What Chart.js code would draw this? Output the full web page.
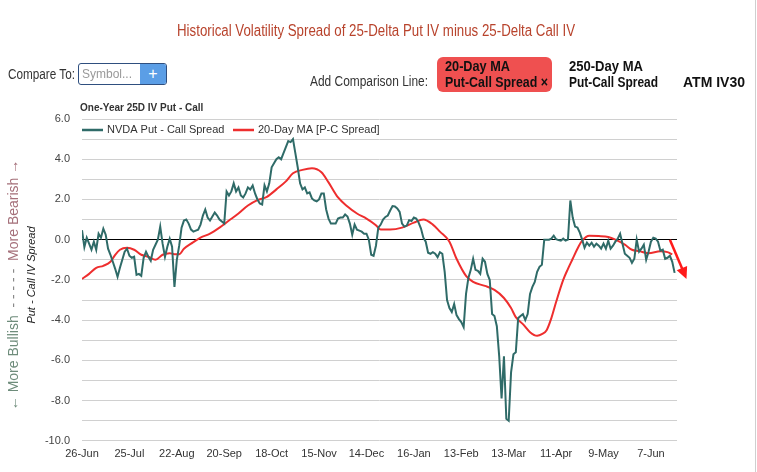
<!DOCTYPE html>
<html>
<head>
<meta charset="utf-8">
<script src="https://cdn.jsdelivr.net/npm/chart.js@4.4.1/dist/chart.umd.min.js"></script>
<style>
    body { margin: 0; background: #fff; }
    #page { position: relative; width: 757px; height: 472px; overflow: hidden; }
    #page:after { content: ''; position: absolute; right: 1px; top: 0; bottom: 0; border-right: 1px solid #cfcfcf; }
    .hd { font-family: "Liberation Sans", Arial, sans-serif; position: absolute; white-space: nowrap; transform-origin: 0 50%; line-height: 16px; }
    #symbol { position: absolute; left: 78px; top: 63px; width: 87px; height: 20px; border: 1px solid #2f4f7f; border-radius: 3px; overflow: hidden; background: #fff; }
    #pill { position: absolute; left: 437px; top: 57px; width: 115px; height: 35px; background: #ef5050; border-radius: 6px; }
    .opt { font-size: 14px; font-weight: bold; color: #111; }
</style>
</head>
<body>
<div id="page">
    <canvas id="ivChart" width="757" height="472" style="position:absolute;left:0;top:0;"></canvas>
    <div class="hd" data-w="398" style="left:177px;top:23px;font-size:16px;color:#b8432c;">Historical Volatility Spread of 25-Delta Put IV minus 25-Delta Call IV</div>
    <div class="hd" data-w="67" style="left:8px;top:66px;font-size:14px;color:#333;">Compare To:</div>
    <div id="symbol"></div>
    <div class="hd" data-w="50" style="left:82px;top:66px;font-size:12px;color:#999;">Symbol...</div>
    <div style="position:absolute;left:140px;top:64px;width:26px;height:20px;background:#5b9ee6;color:#fff;text-align:center;font:16px/20px 'Liberation Sans', Arial, sans-serif;border-radius:0 2px 2px 0;">+</div>
    <div class="hd" data-w="118" style="left:310px;top:73px;font-size:14px;color:#333;">Add Comparison Line:</div>
    <div id="pill"></div>
    <div class="hd opt" data-w="65" style="left:445px;top:58px;">20-Day MA</div>
    <div class="hd opt" data-w="103" style="left:445px;top:74px;">Put-Call Spread ×</div>
    <div class="hd opt" data-w="74" style="left:569px;top:58px;">250-Day MA</div>
    <div class="hd opt" data-w="89" style="left:569px;top:74px;">Put-Call Spread</div>
    <div class="hd opt" data-w="62" style="left:683px;top:74px;">ATM IV30</div>
</div>
<script>
// squeeze header texts to the narrow look of the original
document.querySelectorAll('.hd[data-w]').forEach(el => {
    const w = el.getBoundingClientRect().width;
    el.style.transform = `scaleX(${+el.dataset.w / w})`;
});

// Tick labels (one every 20 trading days)
const xTickLabels = ['26-Jun', '25-Jul', '22-Aug', '20-Sep', '18-Oct', '15-Nov', '14-Dec',
    '16-Jan', '13-Feb', '13-Mar', '11-Apr', '9-May', '7-Jun'];

// NVDA 25D put - call IV spread, one value per trading day
const spreadValues = [
    0.47, -0.37, 0.1, -0.2, -0.5, -0.1, -0.5, 0.3, 0.1, 0.55,
    0.25, -0.45, -0.75, -1.1, -1.45, -1.85, -1.4, -1.0, -0.6, -0.45,
    -0.8, -0.9, -0.85, -1.75, -1.7, -1.8, -0.9, -0.6, -0.85, -1.05,
    -0.5, -0.25, 0.0, 0.65, -0.2, -0.85, -0.35, 0.05, -0.35, -2.35,
    -1.0, -0.3, 0.6, 0.95, 1.0, 0.8, 0.5, 0.4, 0.45, 0.5,
    0.75, 1.2, 1.5, 1.1, 0.95, 1.15, 1.35, 1.2, 1.0, 0.9,
    0.8, 2.4, 2.2, 2.4, 2.8, 2.4, 2.6, 2.2, 2.1, 2.3,
    2.6, 2.5, 2.7, 2.3, 2.0, 1.8, 1.75, 2.7, 2.4, 2.8,
    3.6, 3.8, 4.0, 4.1, 4.0, 4.3, 4.6, 4.9, 4.85, 5.0,
    4.3, 3.6, 2.8, 2.5, 2.6, 2.3, 2.35, 2.05, 1.95, 1.9,
    2.0, 2.3, 2.3, 1.5, 1.05, 0.8, 0.8, 0.8, 1.05, 1.1,
    1.1, 1.25, 1.15, 0.8, 0.25, 0.75, 0.5, 0.45, 0.4, 0.3,
    0.3, 0.0, -0.75, -0.8, -0.3, 0.6, 0.75, 1.0, 1.13, 1.2,
    1.45, 1.67, 1.65, 1.55, 1.38, 0.8, 0.65, 0.7, 0.97, 0.93,
    1.1, 1.05, 0.85, 0.55, 0.1, -0.1, -0.65, -0.7, -0.62, -0.7,
    -0.87, -0.62, -0.7, -1.6, -3.0, -3.4, -3.6, -3.2, -3.75, -3.95,
    -4.1, -4.35, -2.7, -1.9, -1.5, -0.95, -1.5, -1.55, -1.7, -0.95,
    -1.1, -1.7, -2.0, -3.7, -3.8, -4.3, -5.8, -7.9, -5.8, -8.9,
    -9.0, -6.6, -5.7, -5.6, -3.9, -3.8, -3.7, -4.0, -3.7, -2.7,
    -2.35, -2.1, -1.6, -1.35, -1.25, 0.0, 0.0, 0.0, 0.05, 0.2,
    0.02, -0.02, -0.05, 0.05, -0.05, 0.0, 1.95, 1.1, 0.65, 0.6,
    0.35, 0.0, -0.4, -0.15, -0.3, -0.15, -0.35, -0.2, -0.3, -0.45,
    -0.2, -0.45, -0.05, -0.45, -0.3, -0.1, 0.05, 0.3, -0.2, -0.7,
    -0.8, -0.9, -1.15, -0.95, 0.0, -0.6, -0.45, -0.25, -1.0, -0.6,
    -0.1, 0.1, 0.05, -0.1, -0.55, -0.5, -0.95, -0.9, -0.8, -1.1, -1.65
];

// 20-day moving average, read at these trading-day indexes
const maDays = [0, 3, 6, 9, 12, 14, 16, 19, 22, 25, 28, 31, 34, 37, 39, 41, 43, 46, 50, 54,
    58, 62, 66, 70, 74, 78, 82, 86, 89, 93, 97, 101, 104, 108, 112, 116, 120, 124, 126, 130,
    135, 140, 144, 148, 151, 155, 158, 162, 165, 170, 174, 178, 181, 183, 186, 189, 192, 194, 196, 198,
    200, 203, 205, 207, 209, 211, 214, 218, 222, 225, 229, 232, 235, 239, 244, 247, 249];
const maValues = [-1.95, -1.7, -1.4, -1.3, -1.1, -0.75, -0.5, -0.4, -0.5, -0.75, -0.85, -1.0, -0.75, -0.67, -0.72, -0.72, -0.45, -0.2, 0.1, 0.3,
    0.6, 0.95, 1.3, 1.7, 1.97, 2.13, 2.5, 2.9, 3.3, 3.47, 3.55, 3.35, 2.85, 2.1, 1.65, 1.3, 1.05, 0.72, 0.5, 0.5,
    0.6, 0.85, 1.0, 0.75, 0.4, -0.1, -0.95, -1.8, -2.1, -2.3, -2.5, -2.9, -3.4, -3.85, -4.2, -4.6, -4.78, -4.7, -4.5, -3.9,
    -3.1, -2.0, -1.45, -0.95, -0.45, -0.05, 0.2, 0.18, 0.13, 0.0, -0.25, -0.5, -0.57, -0.67, -0.58, -0.62, -0.73];

// Trend arrow at the end of the MA line: [day, value] start and end
const arrowFrom = [248, 0.0];
const arrowTo = [255, -1.95];

const SPREAD_COLOR = '#2f6b68';
const MA_COLOR = '#ee2e2e';
const FONT = "'Liberation Sans', Arial, sans-serif";

// Legend, labels and arrow drawn on top of the chart
const overlayPlugin = {
    id: 'overlay',
    afterDraw(chart) {
        const ctx = chart.ctx;
        const x = chart.scales.x, y = chart.scales.y;
        ctx.save();

        // arrow
        const x0 = x.getPixelForValue(arrowFrom[0]), y0 = y.getPixelForValue(arrowFrom[1]);
        const x1 = x.getPixelForValue(arrowTo[0]), y1 = y.getPixelForValue(arrowTo[1]);
        const ang = Math.atan2(y1 - y0, x1 - x0);
        ctx.strokeStyle = '#ff1a1a';
        ctx.fillStyle = '#ff1a1a';
        ctx.lineWidth = 2.5;
        ctx.beginPath();
        ctx.moveTo(x0, y0);
        ctx.lineTo(x1 - 8 * Math.cos(ang), y1 - 8 * Math.sin(ang));
        ctx.stroke();
        ctx.beginPath();
        ctx.moveTo(x1, y1);
        ctx.lineTo(x1 - 13 * Math.cos(ang - 0.45), y1 - 13 * Math.sin(ang - 0.45));
        ctx.lineTo(x1 - 13 * Math.cos(ang + 0.45), y1 - 13 * Math.sin(ang + 0.45));
        ctx.closePath();
        ctx.fill();

        // chart sub title
        ctx.fillStyle = '#333';
        ctx.font = 'bold 10px ' + FONT;
        ctx.textBaseline = 'middle';
        ctx.fillText('One-Year 25D IV Put - Call', 80, 108);

        // legend
        const items = chart.data.datasets;
        let lx = 82;
        ctx.font = '11px ' + FONT;
        items.forEach(ds => {
            ctx.strokeStyle = ds.borderColor;
            ctx.lineWidth = 2.5;
            ctx.beginPath();
            ctx.moveTo(lx, 130);
            ctx.lineTo(lx + 21, 130);
            ctx.stroke();
            ctx.fillStyle = '#333';
            ctx.fillText(ds.label, lx + 25, 130);
            lx += 151;
        });

        // y axis side labels
        ctx.translate(14, 285);
        ctx.rotate(-Math.PI / 2);
        ctx.font = '14px ' + FONT;
        const parts = [['\u2190 More Bullish', '#6e8c7b'], ['  - - - - -  ', '#888'], ['More Bearish \u2192', '#a5707a']];
        const total = parts.reduce((s, p) => s + ctx.measureText(p[0]).width, 0);
        let px = -total / 2;
        parts.forEach(p => {
            ctx.fillStyle = p[1];
            ctx.fillText(p[0], px, 0);
            px += ctx.measureText(p[0]).width;
        });
        ctx.font = 'italic 11px ' + FONT;
        ctx.fillStyle = '#222';
        ctx.textAlign = 'center';
        ctx.fillText('Put - Call IV Spread', 10, 18);
        ctx.restore();
    }
};

new Chart(document.getElementById('ivChart'), {
    type: 'line',
    data: {
        datasets: [{
            label: 'NVDA Put - Call Spread',
            data: spreadValues.map((v, i) => ({ x: i, y: v })),
            borderColor: SPREAD_COLOR,
            borderWidth: 2,
            pointRadius: 0,
            tension: 0
        }, {
            label: '20-Day MA [P-C Spread]',
            data: maDays.map((d, i) => ({ x: d, y: maValues[i] })),
            borderColor: MA_COLOR,
            borderWidth: 2,
            pointRadius: 0,
            cubicInterpolationMode: 'monotone'
        }]
    },
    options: {
        responsive: false,
        animation: false,
        layout: { padding: { left: 0, right: 80, top: 119, bottom: 4 } },
        plugins: { legend: { display: false }, tooltip: { enabled: false } },
        scales: {
            x: {
                type: 'linear',
                min: 0,
                max: 251,
                grid: { display: false, drawTicks: false },
                border: { display: false },
                ticks: {
                    stepSize: 20,
                    includeBounds: false,
                    autoSkip: false,
                    maxRotation: 0,
                    padding: 7,
                    color: '#333',
                    font: { family: FONT, size: 11 },
                    callback: v => xTickLabels[v / 20] || ''
                }
            },
            y: {
                min: -10,
                max: 6,
                afterFit: scale => { scale.width = 82; },
                grid: {
                    drawTicks: false,
                    color: ctx => ctx.tick && ctx.tick.value === 0 ? '#000' : '#d0d0d0'
                },
                border: { display: false },
                ticks: {
                    stepSize: 1,
                    padding: 12,
                    color: '#444',
                    font: { family: FONT, size: 11 },
                    callback: v => v % 2 === 0 ? v.toFixed(1) : ''
                }
            }
        }
    },
    plugins: [overlayPlugin]
});
</script>
</body>
</html>
